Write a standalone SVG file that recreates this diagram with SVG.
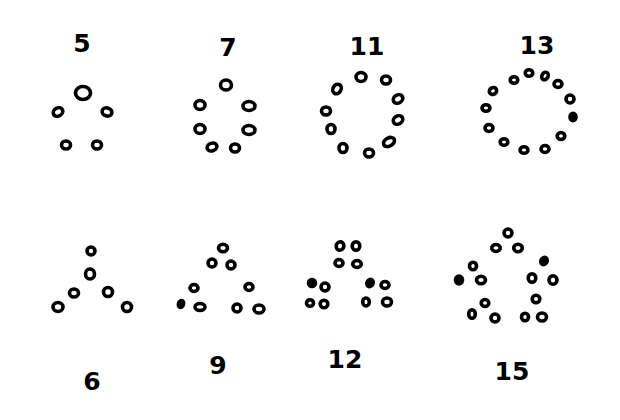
<svg xmlns="http://www.w3.org/2000/svg" width="620" height="420" viewBox="0 0 620 420">
<style>
.o{fill:#fff;stroke:#000;stroke-width:3.6}
.s{fill:#000;stroke:#000;stroke-width:3.6}
.n{font-family:"DejaVu Sans",sans-serif;font-size:25px;font-weight:bold;fill:#000;text-anchor:middle}
</style>
<rect width="620" height="420" fill="#fff"/>
<g id="fig5">
<text class="n" x="82" y="52">5</text>
<ellipse class="o" cx="83" cy="93" rx="7.5" ry="6.5"/>
<ellipse class="o" cx="58" cy="112" rx="5" ry="4" transform="rotate(-30 58 112)"/>
<ellipse class="o" cx="107" cy="112" rx="5" ry="4" transform="rotate(20 107 112)"/>
<ellipse class="o" cx="66" cy="145" rx="4.5" ry="4"/>
<ellipse class="o" cx="97" cy="145" rx="4.5" ry="4"/>
</g>
<g id="fig7">
<text class="n" x="228" y="56">7</text>
<ellipse class="o" cx="226" cy="85" rx="5.5" ry="5"/>
<ellipse class="o" cx="200" cy="105" rx="5" ry="4.5"/>
<ellipse class="o" cx="249" cy="106" rx="6" ry="4.5"/>
<ellipse class="o" cx="200" cy="129" rx="5" ry="4.5"/>
<ellipse class="o" cx="249" cy="130" rx="6" ry="4.5"/>
<ellipse class="o" cx="212" cy="147" rx="5" ry="3.8" transform="rotate(-20 212 147)"/>
<ellipse class="o" cx="235" cy="148" rx="4.5" ry="4"/>
</g>
<g id="fig11">
<text class="n" x="367" y="55">11</text>
<ellipse class="o" cx="361" cy="77" rx="5" ry="4.5"/>
<ellipse class="o" cx="386" cy="80" rx="4.5" ry="4"/>
<ellipse class="o" cx="337" cy="89" rx="4" ry="5" transform="rotate(30 337 89)"/>
<ellipse class="o" cx="398" cy="99" rx="5" ry="4" transform="rotate(-30 398 99)"/>
<ellipse class="o" cx="326" cy="111" rx="4.5" ry="4"/>
<ellipse class="o" cx="398" cy="120" rx="5" ry="4" transform="rotate(-30 398 120)"/>
<ellipse class="o" cx="331" cy="129" rx="4" ry="4.5"/>
<ellipse class="o" cx="389" cy="142" rx="6" ry="4" transform="rotate(-30 389 142)"/>
<ellipse class="o" cx="343" cy="148" rx="4" ry="4.5"/>
<ellipse class="o" cx="369" cy="153" rx="4.5" ry="4"/>
</g>
<g id="fig13">
<text class="n" x="537" y="54">13</text>
<ellipse class="o" cx="514" cy="80" rx="3.8" ry="3.3"/>
<ellipse class="o" cx="529" cy="73" rx="3.8" ry="3.3"/>
<ellipse class="o" cx="545" cy="76" rx="3" ry="4" transform="rotate(30 545 76)"/>
<ellipse class="o" cx="558" cy="84" rx="4" ry="3.5"/>
<ellipse class="o" cx="493" cy="91" rx="3.8" ry="3.3" transform="rotate(-30 493 91)"/>
<ellipse class="o" cx="570" cy="99" rx="4" ry="4"/>
<ellipse class="o" cx="486" cy="108" rx="4" ry="3.3"/>
<ellipse class="s" cx="573" cy="117" rx="3" ry="3.8"/>
<ellipse class="o" cx="489" cy="128" rx="4" ry="3.5"/>
<ellipse class="o" cx="561" cy="136" rx="3.8" ry="3.5"/>
<ellipse class="o" cx="504" cy="142" rx="3.8" ry="3.3"/>
<ellipse class="o" cx="524" cy="150" rx="4" ry="3.3"/>
<ellipse class="o" cx="545" cy="149" rx="4" ry="3.5"/>
</g>
<g id="fig6">
<ellipse class="o" cx="91" cy="251" rx="4" ry="4"/>
<ellipse class="o" cx="90" cy="274" rx="4.5" ry="5"/>
<ellipse class="o" cx="74" cy="293" rx="4.5" ry="4"/>
<ellipse class="o" cx="108" cy="292" rx="4.5" ry="4.5"/>
<ellipse class="o" cx="58" cy="307" rx="5" ry="4.5"/>
<ellipse class="o" cx="127" cy="307" rx="4.5" ry="4.5"/>
<text class="n" x="92" y="390">6</text>
</g>
<g id="fig9">
<ellipse class="o" cx="223" cy="248" rx="4.5" ry="3.8"/>
<ellipse class="o" cx="212" cy="263" rx="4" ry="4"/>
<ellipse class="o" cx="231" cy="265" rx="4" ry="4"/>
<ellipse class="o" cx="194" cy="288" rx="4" ry="3.5"/>
<ellipse class="o" cx="249" cy="287" rx="4" ry="3.5"/>
<ellipse class="s" cx="181" cy="304" rx="2.5" ry="3.5" transform="rotate(20 181 304)"/>
<ellipse class="o" cx="200" cy="307" rx="5" ry="3.5"/>
<ellipse class="o" cx="237" cy="308" rx="4" ry="4"/>
<ellipse class="o" cx="259" cy="309" rx="5" ry="4"/>
<text class="n" x="218" y="374">9</text>
</g>
<g id="fig12">
<ellipse class="o" cx="340" cy="246" rx="3.8" ry="4.3" transform="rotate(20 340 246)"/>
<ellipse class="o" cx="356" cy="246" rx="3.8" ry="4.3"/>
<ellipse class="o" cx="339" cy="263" rx="4" ry="3.5"/>
<ellipse class="o" cx="357" cy="264" rx="4.3" ry="3.5"/>
<ellipse class="s" cx="312" cy="283" rx="3.5" ry="3.5"/>
<ellipse class="o" cx="325" cy="287" rx="4" ry="4"/>
<ellipse class="s" cx="370" cy="283" rx="3" ry="3.8" transform="rotate(30 370 283)"/>
<ellipse class="o" cx="385" cy="285" rx="4" ry="3.5"/>
<ellipse class="o" cx="310" cy="303" rx="3.5" ry="3.3"/>
<ellipse class="o" cx="324" cy="304" rx="3.8" ry="3.8"/>
<ellipse class="o" cx="366" cy="302" rx="3.3" ry="4"/>
<ellipse class="o" cx="387" cy="302" rx="4.5" ry="4"/>
<text class="n" x="345" y="368">12</text>
</g>
<g id="fig15">
<ellipse class="o" cx="508" cy="233" rx="4" ry="4"/>
<ellipse class="o" cx="496" cy="248" rx="4.3" ry="3.5"/>
<ellipse class="o" cx="518" cy="248" rx="4.3" ry="3.8"/>
<ellipse class="o" cx="473" cy="266" rx="3.5" ry="3.8"/>
<ellipse class="s" cx="544" cy="261" rx="3" ry="3.8" transform="rotate(30 544 261)"/>
<ellipse class="s" cx="459" cy="280" rx="3.5" ry="4"/>
<ellipse class="o" cx="481" cy="280" rx="4.5" ry="3.8"/>
<ellipse class="o" cx="532" cy="278" rx="3.8" ry="4.3"/>
<ellipse class="o" cx="553" cy="280" rx="4" ry="4.3"/>
<ellipse class="o" cx="485" cy="303" rx="3.8" ry="3.5"/>
<ellipse class="o" cx="536" cy="299" rx="3.8" ry="3.8"/>
<ellipse class="o" cx="472" cy="314" rx="3.3" ry="4.3"/>
<ellipse class="o" cx="495" cy="318" rx="4" ry="4"/>
<ellipse class="o" cx="525" cy="317" rx="3.5" ry="3.8"/>
<ellipse class="o" cx="542" cy="317" rx="4.5" ry="4"/>
<text class="n" x="512" y="380">15</text>
</g>
</svg>
